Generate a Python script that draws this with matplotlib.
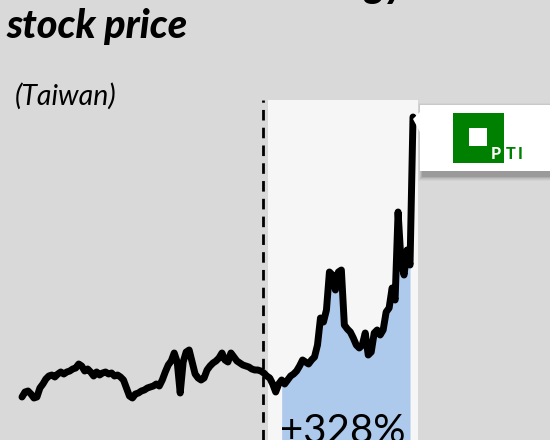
import matplotlib.pyplot as plt
from matplotlib.patches import Rectangle, Polygon

# weekly closing price (NT$)
prices = [
    25.0, 27.5, 28.0, 26.5, 24.5, 25.0, 29.5, 31.5, 34.0, 35.5,
    36.0, 35.0, 36.5, 37.5, 36.5, 37.5, 38.0, 39.0, 39.5, 41.5,
    40.5, 38.0, 39.0, 37.5, 35.5, 37.5, 36.0, 37.0, 37.5, 36.5,
    37.0, 35.5, 36.0, 35.0, 33.5, 29.5, 25.5, 24.5, 26.5, 27.0,
    28.0, 28.5, 29.5, 30.0, 30.5, 31.5, 30.5, 33.5, 37.5, 41.0,
    43.0, 47.0, 42.5, 27.0, 42.5, 47.5, 48.5, 42.5, 36.5, 34.5,
    33.5, 34.5, 38.5, 40.5, 42.0, 43.0, 44.5, 47.0, 43.5, 42.5,
    47.0, 45.0, 43.0, 42.0, 41.0, 40.5, 40.0, 39.0, 38.5, 38.5,
    38.0, 37.0, 35.5, 34.5, 31.5, 27.5, 31.5, 33.5, 31.5, 33.5,
    35.5, 36.5, 38.0, 40.5, 43.5, 42.5, 41.5, 43.5, 45.0, 51.0,
    64.5, 62.5, 68.5, 87.5, 86.0, 78.5, 87.5, 88.5, 61.0, 59.0,
    57.5, 54.5, 51.0, 49.5, 51.0, 57.0, 46.0, 47.5, 57.0, 58.5,
    56.0, 58.5, 67.5, 69.5, 79.5, 73.5, 117.5, 92.5, 86.0, 98.5,
    91.0, 165.0,
]
event_week = 80.7      # dashed marker
panel_weeks = (82.4, 132.6)
fill_from = 87
gain_label = "+328%"
title_lines = ["Powertech Technology", "stock price"]
subtitle = "(Taiwan)"

W, H = 550, 440
n = len(prices)
step = (413 - 22) / (n - 1)


def fx(px):
    return px / W


def fy(py):
    return 1 - py / H


fig = plt.figure(figsize=(5.5, 4.4), dpi=100, facecolor="#d9d9d9")
ax = fig.add_axes([0, 0, 1, 1])
ax.set_xlim(-22 / step, (W - 22) / step)
ax.set_ylim(3.5, 223.5)
ax.axis("off")

top = fy(100)
ax.axvspan(panel_weeks[0], panel_weeks[1], ymin=0, ymax=top,
           color="#f6f6f6", lw=0, zorder=1)
ax.axvline(event_week, ymin=0, ymax=top, color="black", lw=2,
           dashes=(3.8, 2.6), zorder=2)

weeks = list(range(n))
ax.fill_between(weeks[fill_from:-1], prices[fill_from:-1], 0,
                color="#adc9ec", lw=0, zorder=3)
ax.plot(weeks, prices, color="black", lw=5,
        solid_joinstyle="round", solid_capstyle="round", zorder=4)

ax.text(280 / step - 22 / step, 2.0, gain_label, fontsize=29,
        family="Lato", va="baseline", ha="left", zorder=5)

# titles (first line sits above the crop, only its descenders show)
fig.text(fx(22), fy(-3), title_lines[0], fontsize=28.5, family="Lato",
         weight="black", style="italic", va="baseline")
fig.text(fx(7), fy(38), title_lines[1], fontsize=28.5, family="Lato",
         weight="black", style="italic", va="baseline")
fig.text(fx(15), fy(105), subtitle, fontsize=20.5, family="Lato",
         style="italic", va="baseline")

# callout box with soft shadow
for k, a in enumerate([0.10, 0.08, 0.06, 0.04, 0.03]):
    fig.add_artist(Rectangle((fx(422 - k), fy(177 + k)), (W + 10 - 422 + k) / W,
                             (70 + 2 * k) / H, transform=fig.transFigure,
                             color="black", alpha=a, lw=0, zorder=6))
fig.add_artist(Rectangle((fx(420), fy(171)), (W + 10 - 420) / W, 66 / H,
                         transform=fig.transFigure, color="white", lw=0,
                         zorder=7))
fig.add_artist(Polygon([(fx(413), fy(119)), (fx(421), fy(111)),
                        (fx(421), fy(134))], closed=True,
                       transform=fig.transFigure, color="white", lw=0,
                       zorder=7))

# PTI logo
green = "#008000"
fig.add_artist(Rectangle((fx(453), fy(163)), 51 / W, 50 / H,
                         transform=fig.transFigure, color=green, lw=0,
                         zorder=8))
fig.add_artist(Rectangle((fx(469), fy(146)), 18 / W, 18 / H,
                         transform=fig.transFigure, color="white", lw=0,
                         zorder=9))
for letter, x, c in [("P", 496, "white"), ("T", 511, green), ("I", 520.5, green)]:
    fig.text(fx(x), fy(159), letter, fontsize=11.5, family="Lato",
             weight="black", color=c, ha="center", va="baseline", zorder=9)

fig.savefig("out.png", dpi=100, facecolor=fig.get_facecolor())
